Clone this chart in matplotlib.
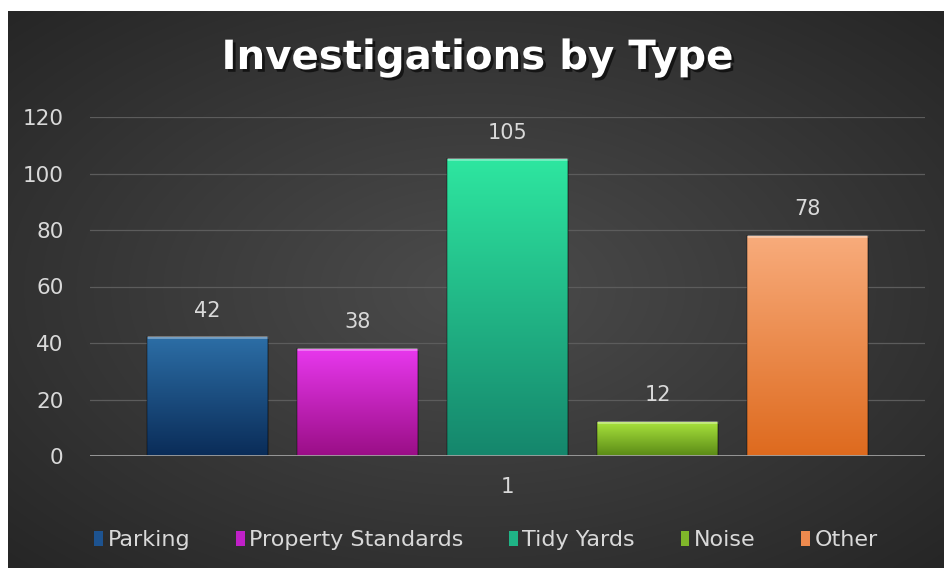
import numpy as np
import matplotlib
matplotlib.use("Agg")
import matplotlib.pyplot as plt
from matplotlib.patches import Patch
from matplotlib import patheffects as pe
from matplotlib.colors import LinearSegmentedColormap

# ---- data ----
categories = ["1"]
series_names = ["Parking", "Property Standards", "Tidy Yards", "Noise", "Other"]
series_values = [42, 38, 105, 12, 78]
y_ticks = [0, 20, 40, 60, 80, 100, 120]
title = "Investigations by Type"

# top / bottom colours per series (gradient)
top_colors = ["#2c6ea6", "#e838ee", "#2ee6a0", "#a8e23c", "#f8ac7c"]
bot_colors = ["#0a2c58", "#9a0e86", "#15866c", "#5a8a16", "#de6a1e"]
legend_colors = ["#1d5390", "#c020c8", "#1fb486", "#80b62a", "#ee8a4e"]

TXT = "#d9d9d9"
FONT = "DejaVu Sans"

W, H = 945, 568
fig = plt.figure(figsize=(W / 100, H / 100), dpi=100)
fig.patch.set_facecolor("white")

# background radial gradient
bg = fig.add_axes([8 / W, 0, (W - 8) / W, (H - 11) / H])
bg.set_axis_off()
nx, ny = 400, 240
xx, yy = np.meshgrid(np.linspace(-1, 1, nx), np.linspace(-1, 1, ny))
r = np.sqrt(xx ** 2 + yy ** 2) / np.sqrt(2)
c0 = np.array([0x4c, 0x4c, 0x4c]) / 255
c1 = np.array([0x26, 0x26, 0x26]) / 255
img = c0[None, None, :] * (1 - r[..., None]) + c1[None, None, :] * r[..., None]
bg.imshow(img, aspect="auto", extent=[0, 1, 0, 1], interpolation="bilinear")
bg.set_xlim(0, 1)
bg.set_ylim(0, 1)

# main axes
left, right = 90 / W, 925 / W
bottom, top = (H - 456) / H, (H - 117) / H
ax = fig.add_axes([left, bottom, right - left, top - bottom])
ax.set_facecolor("none")

n = len(series_names)
step = 150 / 835
width = 121 / 835
x0 = np.arange(len(categories))
for i, (name, val) in enumerate(zip(series_names, series_values)):
    xpos = x0[0] + (i - (n - 1) / 2) * step
    bars = ax.bar(xpos, val, width=width, color=bot_colors[i], edgecolor="none",
                  zorder=3, label=name)
    b = bars[0]
    cmap = LinearSegmentedColormap.from_list("g", [bot_colors[i], top_colors[i]])
    grad = np.linspace(0, 1, 256).reshape(-1, 1)
    im = ax.imshow(grad, cmap=cmap, aspect="auto", origin="lower",
                   extent=[b.get_x(), b.get_x() + b.get_width(), 0, val], zorder=3.5)
    im.set_clip_path(b)
    # bevel edges
    ax.plot([b.get_x(), b.get_x() + b.get_width()], [val, val],
            color="white", alpha=0.35, lw=2, zorder=4, solid_capstyle="butt")
    ax.plot([b.get_x(), b.get_x()], [0, val], color="black", alpha=0.25, lw=1.2, zorder=4)
    ax.plot([b.get_x() + b.get_width()] * 2, [0, val], color="black", alpha=0.35, lw=1.2, zorder=4)
    ax.annotate(str(val), (xpos, val), xytext=(0, 12), textcoords="offset points",
                ha="center", va="bottom", color=TXT, fontsize=15,
                family=FONT, zorder=5)

ax.set_aspect("auto")
ax.set_xlim(-0.5, 0.5)
ax.set_ylim(0, 120)
ax.set_yticks(y_ticks)
ax.set_yticklabels([str(t) for t in y_ticks], family=FONT)
ax.set_xticks(x0)
ax.set_xticklabels(categories, family=FONT)
ax.tick_params(axis="y", length=0, pad=19, labelsize=15.5, labelcolor=TXT)
ax.tick_params(axis="x", length=0, pad=15, labelsize=15.5, labelcolor=TXT)
for s in ax.spines.values():
    s.set_visible(False)
ax.grid(axis="y", color="#5c5c5c", lw=0.9, zorder=1)
ax.set_axisbelow(True)
ax.axhline(0, color="#a0a0a0", lw=2, zorder=6)

# legend
handles = [Patch(facecolor=c, edgecolor="none") for c in legend_colors]
fig.legend(handles, series_names, loc="center", bbox_to_anchor=(486 / W, (H - 540) / H),
           ncol=n, frameon=False, labelcolor=TXT,
           prop={"family": FONT, "size": 16},
           handlelength=0.4, handleheight=0.65, handletextpad=0.2, columnspacing=2.05)

# title
fig.text(0.505, (H - 58) / H, title, ha="center", va="center", color="white",
         fontsize=29, fontweight="bold",
         path_effects=[pe.withSimplePatchShadow(offset=(2, -2), shadow_rgbFace="black", alpha=0.6)])

fig.savefig("out.png", dpi=100)
